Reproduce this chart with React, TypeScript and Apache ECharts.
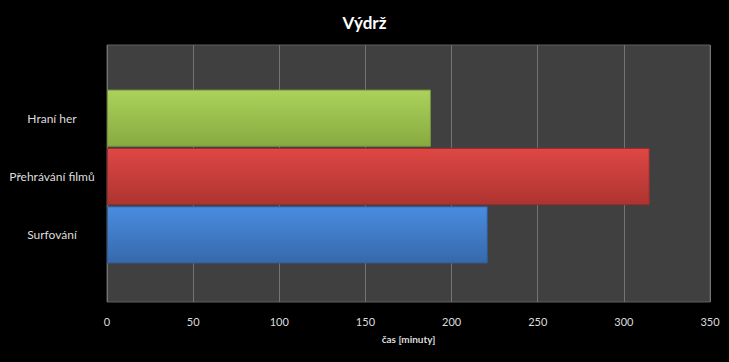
import React, { useEffect, useRef } from "react";
import * as echarts from "echarts";

const categories = ["Surfování", "Přehrávání filmů", "Hraní her"];
const values = [221, 315, 188];
const topColors = ["#4a8ce0", "#de4744", "#abd25c"];
const bottomColors = ["#3669ab", "#ad3431", "#88aa40"];
const borderColors = ["#2f5d99", "#9a2d2a", "#76963a"];
const xTicks = { min: 0, max: 350, interval: 50 };

export default function App() {
  const ref = useRef<HTMLDivElement>(null);
  useEffect(() => {
    if (!ref.current) return;
    const chart = echarts.init(ref.current, null, { renderer: "svg" });
    const font = "Lato, 'Open Sans', sans-serif";
    chart.setOption({
      animation: false,
      backgroundColor: "#000000",
      title: {
        text: "Výdrž",
        left: "center",
        top: 9,
        textStyle: { color: "#ffffff", fontSize: 17, fontWeight: "bold", fontFamily: font },
      },
      grid: [
        {
          left: 107, top: 45, width: 603, height: 257,
          show: true, backgroundColor: "#404040", borderColor: "#5e5e5e", borderWidth: 1,
        },
        { left: 107, top: 89, width: 603, height: 175 },
      ],
      xAxis: [
        {
          type: "value", gridIndex: 0, ...xTicks,
          axisLine: { show: false }, axisTick: { show: false },
          splitLine: { show: true, lineStyle: { color: "#737373", width: 1 } },
          axisLabel: { color: "#dddddd", fontSize: 11, fontFamily: font, margin: 14 },
          name: "čas [minuty]", nameLocation: "middle", nameGap: 32,
          nameTextStyle: { color: "#dddddd", fontSize: 10, fontWeight: "bold", fontFamily: font },
        },
        { type: "value", gridIndex: 1, ...xTicks, show: false },
      ],
      yAxis: [
        { type: "category", gridIndex: 0, data: [""], show: false },
        {
          type: "category", gridIndex: 1, data: categories,
          axisLine: { show: false }, axisTick: { show: false },
          axisLabel: { color: "#dddddd", fontSize: 12, fontFamily: font, align: "center", margin: 55 },
        },
      ],
      series: [
        {
          type: "bar", xAxisIndex: 1, yAxisIndex: 1, barCategoryGap: "2%",
          data: values.map((v, i) => ({
            value: v,
            itemStyle: {
              color: new echarts.graphic.LinearGradient(0, 0, 0, 1, [
                { offset: 0, color: topColors[i] },
                { offset: 1, color: bottomColors[i] },
              ]),
              borderColor: borderColors[i], borderWidth: 1,
            },
          })),
        },
      ],
    });
    return () => chart.dispose();
  }, []);
  return <div ref={ref} style={{ width: 729, height: 362, position: "absolute", left: 0, top: 0 }} />;
}
